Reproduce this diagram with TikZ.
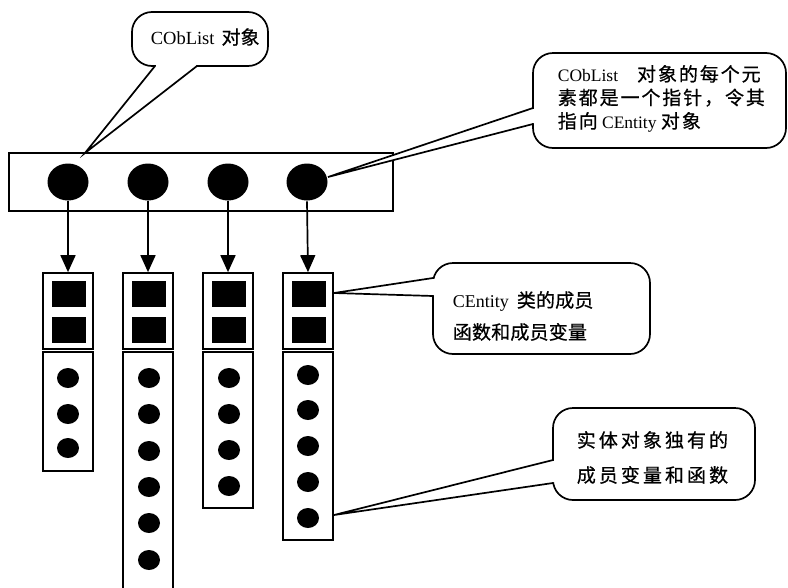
\documentclass[tikz,border=0pt]{standalone}
\usepackage{fontspec}
\setmainfont{Liberation Serif}
\newfontfamily\cjk[FakeBold=0.6]{Noto Sans CJK SC}
\newfontfamily\cjkb[LetterSpace=10,FakeBold=0.6]{Noto Sans CJK SC}
\newfontfamily\cjkc[LetterSpace=1,FakeBold=0.6]{Noto Sans CJK SC}
\newfontfamily\cjkd[LetterSpace=16,FakeBold=0.6]{Noto Sans CJK SC}
\usetikzlibrary{arrows.meta,shapes.geometric}
\begin{document}
\begin{tikzpicture}[x=1pt,y=-1pt,line width=1.7pt,
  bigdot/.style={ellipse,fill=black,minimum width=41pt,minimum height=37pt,inner sep=0pt},
  dot/.style={ellipse,fill=black,minimum width=22pt,minimum height=20pt,inner sep=0pt},
  sq/.style={fill=black,minimum width=34pt,minimum height=26pt,inner sep=0pt},
  frame/.style={draw,inner sep=0pt,minimum width=50pt},
  bubble/.style={draw,fill=white,rounded corners=20pt,inner sep=0pt},
  ptr/.style={-{Triangle[width=15pt,length=17pt]}},
  txt/.style={inner sep=0pt,anchor=west,align=left}]
\useasboundingbox (0,0) rectangle (788,587);
\clip (0,0) rectangle (788,587);

% list bar with pointer elements
\node[draw,inner sep=0pt,minimum width=384pt,minimum height=58pt] (bar) at (201,182) {};
\node[bigdot] (c1) at (68,182) {};
\node[bigdot] (c2) at (148,182) {};
\node[bigdot] (c3) at (228,182) {};
\node[bigdot] (c4) at (307,182) {};

% column 1
\node[frame,minimum height=76pt] (t1) at (68,311) {};
\node[sq] (s1a) at (69,294) {};
\node[sq] (s1b) at (69,330) {};
\node[frame,minimum height=119pt] (b1) at (68,411.5) {};
\foreach \y [count=\i] in {378,414,448} \node[dot] (d1\i) at (68,\y) {};

% column 2
\node[frame,minimum height=76pt] (t2) at (148,311) {};
\node[sq] (s2a) at (149,294) {};
\node[sq] (s2b) at (149,330) {};
\node[frame,minimum height=248pt] (b2) at (148,476) {};
\foreach \y [count=\i] in {378,414,451,487,523,560} \node[dot] (d2\i) at (149,\y) {};

% column 3
\node[frame,minimum height=76pt] (t3) at (228,311) {};
\node[sq] (s3a) at (229,294) {};
\node[sq] (s3b) at (229,330) {};
\node[frame,minimum height=156pt] (b3) at (228,430) {};
\foreach \y [count=\i] in {378,414,450,486} \node[dot] (d3\i) at (229,\y) {};

% column 4
\node[frame,minimum height=76pt] (t4) at (308,311) {};
\node[sq] (s4a) at (309,294) {};
\node[sq] (s4b) at (309,330) {};
\node[frame,minimum height=188pt] (b4) at (308,446) {};
\foreach \y [count=\i] in {375,410,446,482,518} \node[dot] (d4\i) at (308,\y) {};

% pointers
\draw[ptr] (c1.south) -- (t1.north);
\draw[ptr] (c2.south) -- (t2.north);
\draw[ptr] (c3.south) -- (t3.north);
\draw[ptr] (c4.south) -- (t4.north);

% callout 1
\coordinate (tip1) at (85,153);
\node[bubble,minimum width=136pt,minimum height=54pt] (k1) at (200,39) {};
\fill[white] (156,62) -- (156,66) -- (tip1) -- (196,66) -- (196,62) -- cycle;
\draw (155,66) -- (tip1) -- (197,66);
\node[txt,font=\fontsize{18.5}{22}\selectfont] (l1) at (150,37) {CObList\hspace{7pt}{\cjk\fontsize{19}{22}\selectfont 对象}};

% callout 2
\coordinate (tip2) at (328,177);
\node[bubble,minimum width=253pt,minimum height=95pt] (k2) at (659.5,100.5) {};
\fill[white] (537,109) -- (533,109) -- (tip2) -- (533,123) -- (537,123) -- cycle;
\draw (533,108) -- (tip2) -- (533,124);
\node[txt,font=\fontsize{17.5}{23.5}\selectfont] (l2) at (557,98.5)
  {CObList\hspace{19pt}{\cjkb\fontsize{19}{23.5}\selectfont 对象的每个元}\\{\cjkb\fontsize{19}{23.5}\selectfont 素都是一个指针，令其}\\{\cjkb\fontsize{19}{23.5}\selectfont 指向} CEntity {\cjkb\fontsize{19}{23.5}\selectfont 对象}};

% callout 3
\coordinate (tip3) at (334,293);
\node[bubble,minimum width=217pt,minimum height=91pt] (k3) at (541.5,308.5) {};
\fill[white] (437,279) -- (433,279) -- (tip3) -- (433,295) -- (437,295) -- cycle;
\draw (433,278) -- (tip3) -- (433,296);
\node[txt,font=\fontsize{18}{32}\selectfont] (l3) at (452,316)
  {CEntity\hspace{8pt}{\cjkc\fontsize{19}{32}\selectfont 类的成员}\\{\cjkc\fontsize{19}{32}\selectfont 函数和成员变量}};

% callout 4
\coordinate (tip4) at (334,515);
\node[bubble,minimum width=202pt,minimum height=92pt] (k4) at (654,454) {};
\fill[white] (557,461) -- (553,461) -- (tip4) -- (553,482) -- (557,482) -- cycle;
\draw (553,460) -- (tip4) -- (553,483);
\node[txt,font=\fontsize{19}{35}\selectfont] (l4) at (576,457.5)
  {{\cjkd 实体对象独有的}\\{\cjkd 成员变量和函数}};
\end{tikzpicture}
\end{document}
